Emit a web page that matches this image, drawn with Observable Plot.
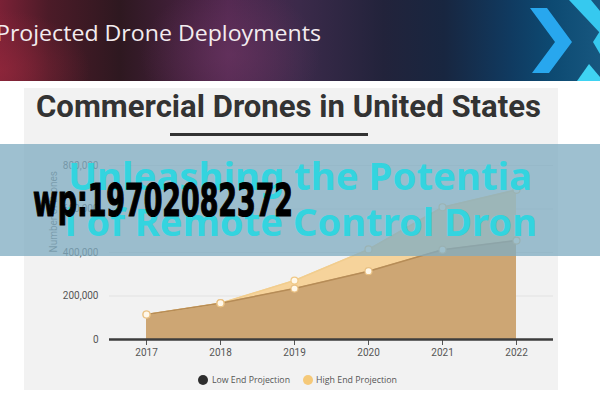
<!DOCTYPE html>
<html>
<head>
<meta charset="utf-8">
<script src="https://cdn.jsdelivr.net/npm/d3@7"></script>
<script src="https://cdn.jsdelivr.net/npm/@observablehq/plot@0.6"></script>
<style>
  html, body { margin: 0; padding: 0; background: #ffffff; }
  #stage { position: relative; width: 600px; height: 400px; overflow: hidden; background: #ffffff; }
  .abs { position: absolute; white-space: nowrap; line-height: 1; transform-origin: left top; }
  #header {
    left: 0; top: 0; width: 600px; height: 81px;
    background:
      radial-gradient(ellipse 90px 60px at 0px 70px, rgba(150,40,60,0.65), rgba(150,40,60,0) 100%),
      radial-gradient(ellipse 90px 70px at 230px 55px, rgba(110,55,100,0.55), rgba(110,55,100,0) 100%),
      linear-gradient(90deg, #7a2136 0%, #4c1b28 8%, #2e1820 20%, #45213f 32%, #522850 38%, #3b2a4a 50%, #22233b 64%, #182640 74%, #103a60 85%, #0d4a72 92%, #17577f 100%);
  }
  #card { left: 24px; top: 88px; width: 534px; height: 302px; background: #f2f2f2; }
  #underline { left: 170px; top: 133px; width: 198px; height: 3px; background: #333; }
  #banner { left: 0; top: 144px; width: 600px; height: 112px; background: rgba(128,172,193,0.76); }
  .chev { position: absolute; left: 0; top: 0; width: 600px; height: 81px; }
</style>
</head>
<body>
<div id="stage">
  <div id="header" class="abs"></div>
  <div class="chev" style="background:#28a7ee; clip-path: polygon(530px 8px, 547px 8px, 572px 42px, 549px 73px, 532px 73px, 555px 42px);"></div>
  <div class="chev" style="background:#36c9ef; clip-path: polygon(569px 0px, 591px 0px, 600px 11px, 600px 33px);"></div>
  <div class="chev" style="background:#36c9ef; clip-path: polygon(600px 31px, 593px 42px, 600px 54px);"></div>
  <div class="chev" style="background:#3fd3f2; clip-path: polygon(577px 81px, 589px 64px, 600px 77px, 600px 81px);"></div>
  <div class="abs" data-w="325" style="left:-4px; top:21px; font-family:'Open Sans', sans-serif; font-size:22px; color:#f3ecef;">Projected Drone Deployments</div>

  <div id="card" class="abs"></div>
  <div class="abs" data-w="505" style="left:36px; top:91px; font-family:Roboto, sans-serif; font-weight:700; font-size:31px; color:#333;">Commercial Drones in United States</div>
  <div id="underline" class="abs"></div>

  <div id="chart" class="abs" style="left:0; top:0;"></div>

  <div class="abs" style="left:198px; top:375px; width:10px; height:10px; border-radius:50%; background:#2e2e2e;"></div>
  <div class="abs" data-w="78" style="left:212px; top:375px; font-family:'Open Sans', sans-serif; font-size:9px; color:#555;">Low End Projection</div>
  <div class="abs" style="left:303px; top:375px; width:10px; height:10px; border-radius:50%; background:#f5c979;"></div>
  <div class="abs" data-w="81" style="left:316px; top:375px; font-family:'Open Sans', sans-serif; font-size:9px; color:#555;">High End Projection</div>

  <div id="banner" class="abs"></div>
  <div class="abs" data-w="464" style="left:68px; top:157px; font-family:'Noto Sans', sans-serif; font-weight:700; font-size:37px; color:#33d4df;">Unleashing the Potentia</div>
  <div class="abs" data-w="472" style="left:65px; top:203px; font-family:'Noto Sans', sans-serif; font-weight:700; font-size:37px; color:#33d4df;">l of Remote Control Dron</div>
  <div class="abs" data-w="260" style="left:33px; top:179px; font-family:'Liberation Sans Narrow','DejaVu Sans Condensed', sans-serif; font-weight:700; font-size:44px; color:#000; -webkit-text-stroke:1.2px #000;">wp:19702082372</div>
</div>
<script>
const years = [2017, 2018, 2019, 2020, 2021, 2022];
const lowEnd = [115000, 167000, 234000, 314000, 413000, 455000];
const highEnd = [115000, 167000, 271000, 414000, 608000, 688000];
const yTicks = [0, 200000, 400000, 600000, 800000];
const yAxisTitle = "Number of Drones";

const data = years.map((year, i) => ({year, low: lowEnd[i], high: highEnd[i]}));

const chart = Plot.plot({
  width: 600,
  height: 400,
  marginLeft: 109,
  marginRight: 47,
  marginTop: 165,
  marginBottom: 61,
  style: {background: "transparent", fontFamily: "Roboto, sans-serif", fontSize: "10px", color: "#555"},
  x: {domain: [2016.5, 2022.5], ticks: years, tickFormat: d => String(d), tickSize: 6, tickPadding: 3, label: null},
  y: {domain: [0, 800000], ticks: yTicks, tickFormat: d3.format(","), tickSize: 0, tickPadding: 11, label: null},
  marks: [
    Plot.ruleY(yTicks.slice(1), {stroke: "#e2e2e2", strokeWidth: 1}),
    Plot.areaY(data, {x: "year", y: "high", fill: "#f6d39b"}),
    Plot.areaY(data, {x: "year", y: "low", fill: "#cda674"}),
    Plot.lineY(data, {x: "year", y: "high", stroke: "#f1cd8e", strokeWidth: 1.5}),
    Plot.lineY(data, {x: "year", y: "low", stroke: "#b68c57", strokeWidth: 1.5}),
    Plot.ruleY([0], {stroke: "#3d3d3d", strokeWidth: 2.5}),
    Plot.dot(data, {x: "year", y: "high", r: 3.5, fill: "#fff8ea", stroke: "#f0c987", strokeWidth: 1.2}),
    Plot.dot(data, {x: "year", y: "low", r: 3.5, fill: "#fff8ea", stroke: "#e9c184", strokeWidth: 1.2}),
    Plot.text([yAxisTitle], {frameAnchor: "left", dx: -56, rotate: -90, fill: "#666", fontSize: 10})
  ]
});
document.getElementById("chart").appendChild(chart);

function fitAll() {
  document.querySelectorAll("[data-w]").forEach(el => {
    el.style.transform = "none";
    const w = el.getBoundingClientRect().width;
    const target = +el.dataset.w;
    if (w > 0) el.style.transform = `scaleX(${target / w})`;
  });
}
fitAll();
if (document.fonts && document.fonts.ready) document.fonts.ready.then(fitAll);
</script>
</body>
</html>
